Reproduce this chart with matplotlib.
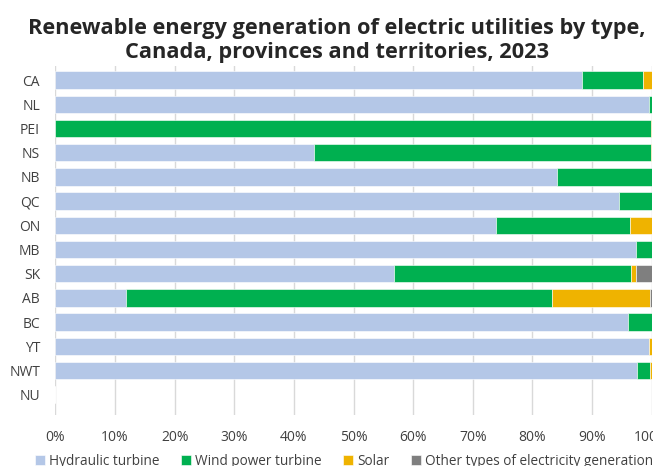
import numpy as np
import matplotlib.pyplot as plt

regions = ['CA', 'NL', 'PEI', 'NS', 'NB', 'QC', 'ON', 'MB', 'SK', 'AB', 'BC', 'YT', 'NWT', 'NU']
hydro = [88.3, 99.5, 0.0, 43.3, 84.1, 94.5, 73.9, 97.3, 56.8, 11.8, 96.0, 99.5, 97.6, 0.0]
wind = [10.3, 0.5, 99.8, 56.5, 15.9, 5.5, 22.5, 2.7, 39.8, 71.4, 4.0, 0.1, 2.1, 0.0]
solar = [1.4, 0.0, 0.2, 0.2, 0.0, 0.0, 3.6, 0.0, 0.7, 16.5, 0.0, 0.4, 0.3, 0.0]
other = [0.0, 0.0, 0.0, 0.0, 0.0, 0.0, 0.0, 0.0, 2.7, 0.3, 0.0, 0.0, 0.0, 0.0]

series = [
    ('Hydraulic turbine', hydro, '#b4c7e7'),
    ('Wind power turbine', wind, '#00b050'),
    ('Solar', solar, '#efb300'),
    ('Other types of electricity generation', other, '#7f7f7f'),
]

plt.rcParams['font.family'] = ['Open Sans', 'DejaVu Sans']

fig = plt.figure(figsize=(6.53, 4.66), dpi=100)
ax = fig.add_axes([0.0848, 0.110, 0.9132, 0.748])

y = np.arange(len(regions))
left = np.zeros(len(regions))
for name, vals, color in series:
    vals = np.array(vals)
    ax.barh(y, vals, left=left, height=0.72, color=color, label=name,
            edgecolor='white', linewidth=0.4, zorder=2)
    left += vals

ax.set_xlim(0, 100)
ax.set_ylim(13.83, -0.58)
ax.set_yticks(y)
ax.set_yticklabels(regions)
ax.set_xticks(np.arange(0, 101, 10))
ax.set_xticklabels([f'{v}%' for v in range(0, 101, 10)])
ax.grid(axis='x', color='#d9d9d9', linewidth=1, zorder=0)
for s in ax.spines.values():
    s.set_visible(False)
ax.tick_params(length=0, colors='#404040', labelsize=10)
ax.tick_params(axis='x', pad=11)
ax.tick_params(axis='y', pad=11)

fig.suptitle('Renewable energy generation of electric utilities by type,\nCanada, provinces and territories, 2023',
             fontsize=15.7, fontweight='bold', color='#262626', x=0.516, y=0.962, linespacing=1.2)

fig.legend(loc='center', bbox_to_anchor=(0.527, 0.01), ncol=4, frameon=False,
           fontsize=9.8, handlelength=0.7, handleheight=0.7, handletextpad=0.3,
           columnspacing=1.6, labelcolor='#404040')

fig.savefig('out.png', dpi=100)
